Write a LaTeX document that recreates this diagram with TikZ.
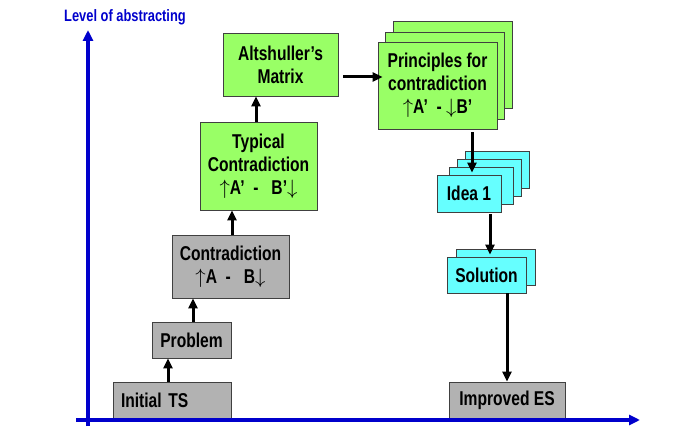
\documentclass[tikz,border=0pt]{standalone}
\usepackage{fontspec}
\setmainfont{Liberation Sans}[FakeStretch=0.78]
\usetikzlibrary{arrows.meta,shadows}

\definecolor{boxgreen}{RGB}{153,255,102}
\definecolor{boxcyan}{RGB}{102,255,255}
\definecolor{boxgray}{RGB}{178,178,178}
\definecolor{axisblue}{RGB}{0,0,204}
\definecolor{edgegray}{RGB}{64,64,64}

\tikzset{
  box/.style={draw=edgegray, line width=0.8pt, inner sep=2pt, align=center,
    font=\fontsize{20}{23}\selectfont\bfseries},
  graybox/.style={box, fill=boxgray},
  greenbox/.style={box, fill=boxgreen},
  cyanbox/.style={box, fill=boxcyan},
  card/.style args={#1/#2/#3}{copy shadow={shadow xshift=#1pt, shadow yshift=#2pt,
    fill=#3, draw=edgegray}},
  flowarrow/.style={draw=black, line width=3pt, -{Triangle[length=10pt,width=9pt]}},
  axisarrow/.style={draw=axisblue, line width=3.5pt, -{Triangle[length=11pt,width=10pt]}}
}

\begin{document}
\begin{tikzpicture}[x=1pt,y=1pt]
    \useasboundingbox (0,0) rectangle (688,-427);
    % left column
    \node[graybox, minimum width=118pt, minimum height=37pt, text width=102pt, align=left] (init) at (172,-400.5) {Initial TS};
    \node[graybox, minimum width=79pt, minimum height=36pt] (prob) at (191.5,-340) {Problem};
    \node[graybox, minimum width=117pt, minimum height=63pt] (contra) at (230.5,-266.5) {Contradiction\\$\uparrow$A\ \ -\ \ \ B$\downarrow$};
    \node[greenbox, minimum width=117pt, minimum height=88pt] (typ) at (258.5,-166) {Typical\\Contradiction\\$\uparrow$A’\ \ -\ \ \ B’$\downarrow$};
    \node[greenbox, minimum width=115pt, minimum height=63pt] (mat) at (280.5,-64.5) {Altshuller’s\\Matrix};
    % right column
    \node[greenbox, minimum width=119pt, minimum height=87pt, card=15/21/boxgreen, card=7.5/10/boxgreen] (princ) at (437.5,-85.5) {Principles for\\contradiction\\$\uparrow$A’\ \ -\ $\downarrow$B’};
    \node[cyanbox, minimum width=64pt, minimum height=37pt, card=28/24/boxcyan, card=20/16/boxcyan, card=12/8/boxcyan] (idea) at (469,-193.5) {Idea 1};
    \node[cyanbox, minimum width=79pt, minimum height=36pt, card=9/8/boxcyan] (sol) at (486.5,-275) {Solution};
    \node[graybox, minimum width=116pt, minimum height=37pt] (impr) at (507,-400.5) {Improved ES};

    \draw[flowarrow] ([xshift=-4pt]init.north) -- ([xshift=-4pt]init.north |- prob.south);
    \draw[flowarrow] ([xshift=1.5pt]prob.north) -- ([xshift=1.5pt]prob.north |- contra.south);
    \draw[flowarrow] ([xshift=1.5pt]contra.north) -- ([xshift=1.5pt]contra.north |- typ.south);
    \draw[flowarrow] ([xshift=-2.5pt]typ.north) -- ([xshift=-2.5pt]typ.north |- mat.south);
    \draw[flowarrow] ([xshift=5pt,yshift=-12.5pt]mat.east) -- ([xshift=5pt,yshift=-12.5pt]mat.east -| princ.west);
    \draw[flowarrow] ([xshift=3pt,yshift=-3pt]idea.north |- princ.south) -- ([xshift=3pt,yshift=2pt]idea.north);
    \draw[flowarrow] ([xshift=3.5pt,yshift=-2pt]sol.north |- idea.south) -- ([xshift=3.5pt,yshift=2pt]sol.north);
    \draw[flowarrow] (impr.north |- sol.south) -- (impr.north);

    % axes
    \coordinate (ybottom) at (88,-426);
    \coordinate (ytop) at (88,-30);
    \coordinate (xleft) at (76,-420);
    \coordinate (xright) at (640,-420);
    \draw[axisarrow] (ybottom) -- (ytop);
    \draw[axisarrow] (xleft) -- (xright);
    \node[text=axisblue, font=\fontsize{16.5}{18}\selectfont\bfseries] (ylabel) at (125,-17) {Level of abstracting};
\end{tikzpicture}
\end{document}
